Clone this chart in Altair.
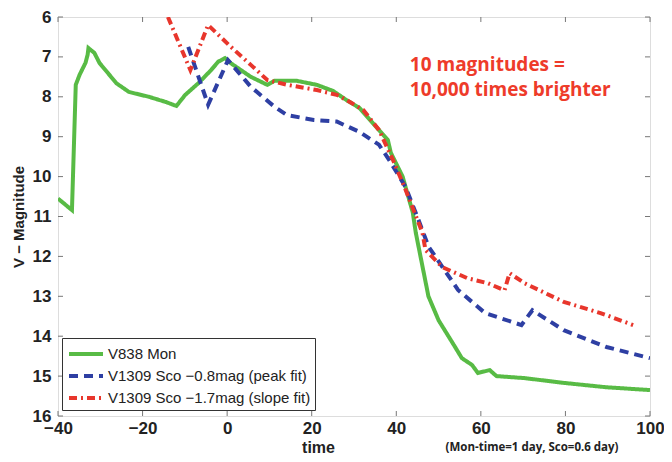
import altair as alt
import pandas as pd

# ---- data ----
mon_t = [-40, -36.7, -35.8, -34.9, -33.5, -33.0, -32.8, -31.4, -30.2, -26.2, -23.2, -18.5, -14.5, -12.0,
         -9.9, -6.8, -3.8, -2.1, -0.5, 0.9, 5.6, 9.5, 11.2, 16.5, 21.2, 25.0, 28.2, 31.3, 35.2, 38.0, 38.7,
         41.5, 43.9, 44.6, 47.6, 50.0, 53.9, 55.5, 57.9, 59.3, 62.1, 63.7, 70.3, 79.6, 89.7, 100]
mon_v = [10.55, 10.84, 7.7, 7.45, 7.15, 6.95, 6.78, 6.9, 7.15, 7.66, 7.88, 8.0, 8.13, 8.23,
         7.95, 7.66, 7.33, 7.12, 7.03, 7.16, 7.5, 7.7, 7.6, 7.6, 7.7, 7.85, 8.08, 8.28, 8.75, 9.08, 9.4,
         10.0, 10.9, 11.4, 13.0, 13.6, 14.27, 14.55, 14.72, 14.92, 14.85, 15.0, 15.05, 15.17, 15.28, 15.35]

peak_t = [-9.2, -4.5, 0.2, 5.6, 11.2, 14.2, 20.5, 25.9, 31.3, 35.9, 38.3, 42.2, 45.3, 47.6, 54.6, 61.0,
          69.6, 72.2, 79.6, 89.7, 100]
peak_v = [6.75, 8.2, 7.08, 7.75, 8.25, 8.46, 8.58, 8.62, 8.88, 9.2, 9.58, 10.26, 11.1, 11.75, 12.84, 13.42,
          13.72, 13.35, 13.85, 14.27, 14.55]

slope_t = [-14.0, -8.7, -4.5, 0.9, 5.6, 9.5, 14.2, 21.2, 25.9, 28.2, 32.2, 35.9, 39.2, 42.2, 46.2, 46.9,
           50.9, 56.9, 61.6, 65.6, 66.8, 70.3, 79.6, 88.3, 96.0]
slope_v = [6.0, 7.33, 6.2, 6.75, 7.2, 7.58, 7.7, 7.83, 7.95, 8.08, 8.33, 8.83, 9.58, 10.33, 11.41, 11.84,
           12.27, 12.55, 12.67, 12.85, 12.42, 12.67, 13.14, 13.42, 13.72]

series_names = ["V838 Mon", "V1309 Sco \u22120.8mag (peak fit)", "V1309 Sco \u22121.7mag (slope fit)"]
series_colors = ["#58bb45", "#2e3fa3", "#e8362c"]
series_dash = [[1, 0], [9, 6], [8, 4, 2, 4]]
series_width = [4, 4, 3.5]

x_ticks = [-40, -20, 0, 20, 40, 60, 80, 100]
y_ticks = [6, 7, 8, 9, 10, 11, 12, 13, 14, 15, 16]

note_lines = ["10 magnitudes =", "10,000 times brighter"]
note_x = [43.2, 43.2]
note_y = [7.2, 7.83]

sub_text = ["(Mon-time=1 day, Sco=0.6 day)"]
sub_x = [72.1]
sub_y = [16.8]

# ---- tables ----
rows = []
for name, ts, vs in zip(series_names, [mon_t, peak_t, slope_t], [mon_v, peak_v, slope_v]):
    for i, (t, v) in enumerate(zip(ts, vs)):
        rows.append({"series": name, "t": t, "v": v, "i": i})
df = pd.DataFrame(rows)

W, H = 592, 399
xs = alt.Scale(domain=[-40, 100], nice=False, zero=False)
ys = alt.Scale(domain=[16, 6], nice=False, zero=False)

xaxis = alt.Axis(values=x_ticks, ticks=False, domain=False, grid=False,
                 labelOverlap=False, labelFlush=False,
                 labelFontSize=17, labelFontWeight="bold", labelFont="Liberation Sans",
                 labelColor="#222", labelPadding=4,
                 title="time", titleFontSize=16, titleFontWeight="bold",
                 titleFont="Liberation Sans", titleColor="#222",
                 titleX=260, titleY=23, titleAnchor="start", titleAlign="center",
                 titleBaseline="top")
yaxis = alt.Axis(values=y_ticks, ticks=False, domain=False, grid=False,
                 labelOverlap=False, labelFlush=False,
                 labelFontSize=17, labelFontWeight="bold", labelFont="Liberation Sans",
                 labelColor="#222", labelPadding=7,
                 title="V \u2212 Magnitude", titleFontSize=15, titleFontWeight="bold",
                 titleFont="Liberation Sans", titleColor="#222", titlePadding=6)

legend = alt.Legend(
    title=None, orient="none", legendX=4, legendY=321,
    symbolType="M-1.7,0L1.7,0", symbolSize=400, symbolStrokeWidth=4,
    labelFontSize=15, labelFont="Liberation Sans", labelColor="#222", labelLimit=0,
    fillColor="white", strokeColor="#333", padding=4, rowPadding=2,
    labelOffset=10, symbolOffset=8,
)

lines = alt.Chart(df).mark_line(clip=True).encode(
    x=alt.X("t:Q", scale=xs, axis=xaxis),
    y=alt.Y("v:Q", scale=ys, axis=yaxis),
    color=alt.Color("series:N", scale=alt.Scale(domain=series_names, range=series_colors),
                    sort=series_names, legend=legend),
    strokeDash=alt.StrokeDash("series:N", scale=alt.Scale(domain=series_names, range=series_dash),
                              sort=series_names, legend=legend),
    strokeWidth=alt.StrokeWidth("series:N", scale=alt.Scale(domain=series_names, range=series_width),
                                sort=series_names, legend=None),
    order="i:Q",
)

xt = pd.DataFrame({"tick": x_ticks})
yt = pd.DataFrame({"tick": y_ticks})
tick_color = "#777"
bt = alt.Chart(xt).mark_rule(color=tick_color, strokeWidth=1).encode(
    x=alt.X("tick:Q", scale=xs, axis=xaxis), y=alt.value(H), y2=alt.value(H - 5))
tt = alt.Chart(xt).mark_rule(color=tick_color, strokeWidth=1).encode(
    x=alt.X("tick:Q", scale=xs, axis=xaxis), y=alt.value(0), y2=alt.value(5))
lt = alt.Chart(yt).mark_rule(color=tick_color, strokeWidth=1).encode(
    y=alt.Y("tick:Q", scale=ys, axis=yaxis), x=alt.value(0), x2=alt.value(5))
rt = alt.Chart(yt).mark_rule(color=tick_color, strokeWidth=1).encode(
    y=alt.Y("tick:Q", scale=ys, axis=yaxis), x=alt.value(W), x2=alt.value(W - 5))

notes = alt.Chart(pd.DataFrame({"txt": note_lines, "x": note_x, "y": note_y})).mark_text(
    align="left", baseline="middle", fontSize=19, fontWeight="bold", font="Open Sans", color="#ee3b2a"
).encode(x=alt.X("x:Q", scale=xs, axis=xaxis), y=alt.Y("y:Q", scale=ys, axis=yaxis), text="txt:N")

sub = alt.Chart(pd.DataFrame({"txt": sub_text, "x": sub_x, "y": sub_y})).mark_text(
    align="center", baseline="middle", fontSize=11.5, fontWeight="bold", font="Open Sans", color="#222"
).encode(x=alt.X("x:Q", scale=xs, axis=xaxis), y=alt.Y("y:Q", scale=ys, axis=yaxis), text="txt:N")

chart = alt.layer(lines, bt, tt, lt, rt, notes, sub).properties(
    width=W, height=H,
    autosize=alt.AutoSizeParams(type="none"),
    padding={"left": 50, "top": 9, "right": 14, "bottom": 40},
).configure_view(stroke="#666", strokeWidth=2).configure(background="white")

chart.save("out.html", embed_options={"renderer": "svg", "actions": False})
